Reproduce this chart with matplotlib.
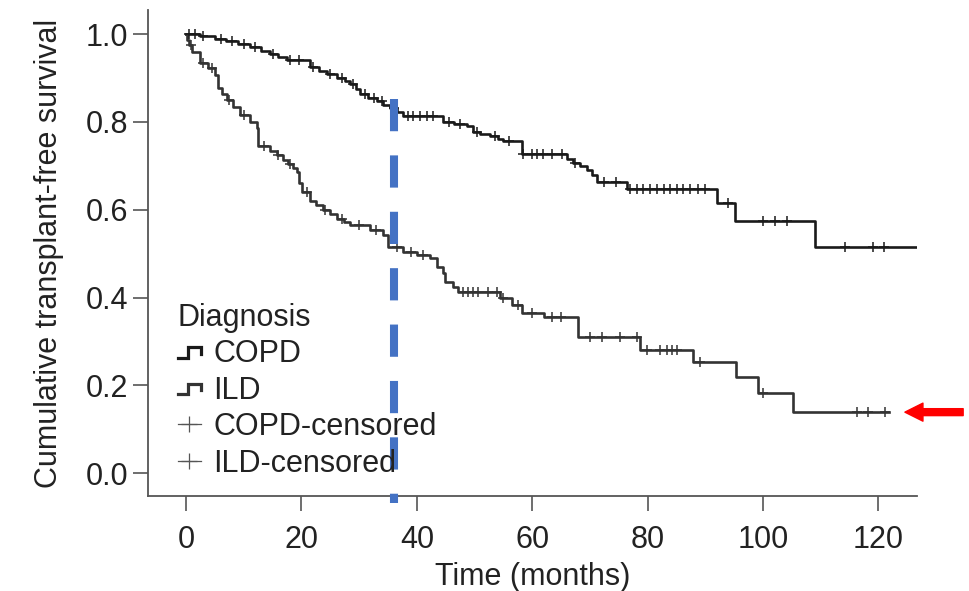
import numpy as np
import matplotlib
matplotlib.use("Agg")
import matplotlib.pyplot as plt
from matplotlib.lines import Line2D
from matplotlib.legend_handler import HandlerBase

plt.rcParams["font.family"] = ["Liberation Sans", "DejaVu Sans"]

# Kaplan-Meier step data (months, survival)
copd_times = [0, 2.5, 5, 7, 9, 11, 13, 14.6, 16, 17.5, 21.5, 23, 24.5, 26.2, 27.5,
              28.4, 29.5, 30.2, 31.5, 33.1, 34.2, 35.4, 36.5, 37.6, 44.5, 46.5,
              48.7, 49.7, 51, 52.7, 54, 54.9, 58.2, 66, 67, 68.3, 69.5, 70.4, 71.2,
              76.4, 92, 95.1, 109]
copd_surv = [1.0, 0.995, 0.99, 0.984, 0.977, 0.97, 0.962, 0.955, 0.948, 0.94, 0.925,
             0.917, 0.91, 0.90, 0.893, 0.886, 0.875, 0.863, 0.855, 0.847, 0.839,
             0.831, 0.822, 0.813, 0.80, 0.796, 0.79, 0.776, 0.772, 0.767, 0.762,
             0.756, 0.726, 0.715, 0.707, 0.699, 0.69, 0.68, 0.664, 0.648, 0.616,
             0.575, 0.516]
copd_end = 126.7
copd_censored = [0.5, 1.5, 3, 6, 8, 10, 12, 15, 18, 19.5, 22, 25, 27, 29, 31, 32.5,
                 34, 36, 38.5, 39.3, 40.6, 41.8, 42.8, 45.5, 47.5, 50.5, 53.5, 56,
                 58.4, 60, 60.8, 61.9, 63.5, 65.2, 67.5, 72.5, 74.5, 77, 78.2, 79.2,
                 80.4, 81.6, 82.8, 83.9, 85.1, 86.1, 87.3, 88.7, 90, 94, 100, 102,
                 104.2, 114.2, 119.1, 121]

ild_times = [0, 0.2, 0.5, 1.0, 2.4, 3.8, 5.0, 5.5, 6.3, 7.1, 8.1, 9.4, 11.1, 12.3,
             12.5, 14.6, 15.7, 16.8, 17.7, 18.5, 19.2, 19.6, 20.1, 21.5, 22.6, 23.7,
             25, 26.2, 27.3, 28.4, 31.9, 34.1, 35, 37.6, 40, 42.3, 43.5, 44.5, 44.9,
             46.3, 47.1, 54.4, 56.5, 58.2, 62, 67.9, 78.7, 87.9, 95.3, 99.1, 105.2]
ild_surv = [1.0, 0.986, 0.975, 0.96, 0.934, 0.923, 0.907, 0.877, 0.863, 0.85, 0.834,
            0.816, 0.80, 0.787, 0.745, 0.733, 0.724, 0.714, 0.705, 0.696, 0.685,
            0.66, 0.64, 0.62, 0.61, 0.60, 0.59, 0.58, 0.572, 0.565, 0.553, 0.542,
            0.515, 0.503, 0.496, 0.49, 0.469, 0.455, 0.435, 0.424, 0.412, 0.399,
            0.383, 0.365, 0.355, 0.31, 0.28, 0.253, 0.219, 0.182, 0.139]
ild_end = 121.8
ild_censored = [0.8, 3, 4.5, 7.5, 10, 13.5, 16, 18, 21, 24, 27, 30, 33, 36.5, 39, 41,
                48, 48.9, 49.7, 50.6, 52.3, 53.9, 54.9, 57.5, 60, 63.5, 65, 70, 72.1,
                75.2, 78.2, 79.9, 82.1, 83.4, 84.2, 85.1, 89, 100, 116.3, 118.2, 121.1]

marker_month = 36
arrow_level = 0.139

x_ticks = [0, 20, 40, 60, 80, 100, 120]
y_ticks = [0.0, 0.2, 0.4, 0.6, 0.8, 1.0]

FS = 22


def km_curve(times, surv, end):
    t = np.append(times, end)
    s = np.append(surv, surv[-1])
    return t, s


def censor_levels(times, surv, cens):
    idx = np.searchsorted(times, cens, side="right") - 1
    return np.asarray(surv)[idx]


class StepHandler(HandlerBase):
    def create_artists(self, legend, orig_handle, xdescent, ydescent,
                       width, height, fontsize, trans):
        xs = np.array([0, 0.45, 0.45, 1.0, 1.0]) * width - xdescent
        ys = np.array([0.2, 0.2, 0.7, 0.7, 0.4]) * height - ydescent
        line = Line2D(xs, ys, color=orig_handle.get_color(),
                      lw=2.3, transform=trans, solid_joinstyle="miter")
        return [line]


fig = plt.figure(figsize=(9.7, 5.91), dpi=100)
ax = fig.add_axes([148 / 970, (591 - 496) / 591, (917 - 148) / 970, (496 - 10) / 591])

copd_color = "#1a1a1a"
ild_color = "#333333"

t, s = km_curve(copd_times, copd_surv, copd_end)
copd_line, = ax.step(t, s, where="post", color=copd_color, lw=1.9)
t, s = km_curve(ild_times, ild_surv, ild_end)
ild_line, = ax.step(t, s, where="post", color=ild_color, lw=1.9)

ax.plot(copd_censored, censor_levels(copd_times, copd_surv, copd_censored),
        ls="none", marker="+", ms=7, mew=1.1, color=copd_color)
ax.plot(ild_censored, censor_levels(ild_times, ild_surv, ild_censored),
        ls="none", marker="+", ms=7, mew=1.1, color=ild_color)

# blue dashed marker at 36 months
ax.plot([marker_month, marker_month], [0.852, -0.068], color="#4472C4", lw=5.8,
        dashes=(4, 3), clip_on=False, zorder=5)

# red arrow pointing at the ILD plateau
ax.annotate("", xy=(124.6, arrow_level), xytext=(134.7, arrow_level),
            annotation_clip=False,
            arrowprops=dict(arrowstyle="simple,head_length=1.3,head_width=1.3,tail_width=0.5",
                            color="#ff0000", mutation_scale=10, shrinkA=0, shrinkB=0))

ax.set_xlim(-6.6, 126.7)
ax.set_ylim(-0.052, 1.055)
ax.set_xticks(x_ticks)
ax.set_yticks(y_ticks)
ax.set_yticklabels([f"{v:.1f}" for v in y_ticks])

for side in ["top", "right"]:
    ax.spines[side].set_visible(False)
for side in ["left", "bottom"]:
    ax.spines[side].set_color("#555555")
    ax.spines[side].set_linewidth(1.3)

ax.tick_params(axis="both", length=11, width=1.2, color="#555555",
               labelsize=FS, labelcolor="#222222")
ax.tick_params(axis="y", pad=3)
ax.tick_params(axis="x", pad=10)

ax.set_xlabel("Time (months)", fontsize=FS, color="#222222", labelpad=5)
ax.set_ylabel("Cumulative transplant-free survival", fontsize=FS, color="#222222",
              labelpad=16)

cens_copd_handle = Line2D([], [], color="#555555", lw=0.9, marker="+", ms=12, mew=0.9)
cens_ild_handle = Line2D([], [], color="#555555", lw=0.9, marker="+", ms=12, mew=0.9)

leg = ax.legend([copd_line, ild_line, cens_copd_handle, cens_ild_handle],
                ["COPD", "ILD", "COPD-censored", "ILD-censored"],
                title="Diagnosis", loc="lower left", bbox_to_anchor=(0.039, 0.036),
                frameon=False, fontsize=FS, title_fontsize=FS, alignment="left",
                handlelength=0.75, handletextpad=0.4, labelspacing=0.21,
                borderpad=0, borderaxespad=0,
                handler_map={copd_line: StepHandler(), ild_line: StepHandler()})
for txt in leg.get_texts():
    txt.set_color("#222222")
leg.get_title().set_color("#222222")

fig.savefig("out.png", dpi=100)
